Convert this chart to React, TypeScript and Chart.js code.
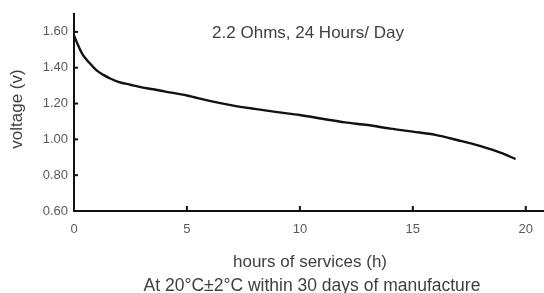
import React, { useEffect, useRef } from "react";
import { Chart, registerables } from "chart.js";

Chart.register(...registerables);

const hours = [0, 0.2, 0.4, 0.7, 1.0, 1.3, 1.6, 2.0, 2.5, 3.0, 3.5, 4.0, 5.0, 6.0, 7.0, 8.0, 9.0, 10.0, 11.0, 12.0, 13.0, 14.0, 15.0, 16.0, 17.0, 18.0, 19.0, 19.55];
const voltage = [1.58, 1.52, 1.47, 1.425, 1.385, 1.36, 1.34, 1.32, 1.305, 1.29, 1.28, 1.268, 1.245, 1.215, 1.19, 1.17, 1.152, 1.136, 1.115, 1.095, 1.08, 1.06, 1.043, 1.025, 0.995, 0.962, 0.92, 0.89];
const xTicks = [0, 5, 10, 15, 20];
const yTicks = [0.6, 0.8, 1.0, 1.2, 1.4, 1.6];
const chartTitle = "2.2 Ohms, 24 Hours/ Day";
const xTitle = "hours of services (h)";
const yTitle = "voltage (v)";
const note = "At 20\u00B0C\u00B12\u00B0C within 30 days of manufacture";

const FONT = "'Liberation Sans', Arial, sans-serif";

export default function App() {
  const ref = useRef<HTMLCanvasElement>(null);
  useEffect(() => {
    document.body.style.margin = "0";
    const textPlugin = {
      id: "texts",
      afterDraw(chart: any) {
        const ctx = chart.ctx;
        const ca = chart.chartArea;
        const xs = chart.scales.x;
        const ys = chart.scales.y;
        ctx.save();
        ctx.strokeStyle = "#111";
        ctx.lineWidth = 2;
        xTicks.forEach((t) => {
          const px = xs.getPixelForValue(t);
          ctx.beginPath();
          ctx.moveTo(px, ca.bottom);
          ctx.lineTo(px, ca.bottom - 5);
          ctx.stroke();
        });
        yTicks.forEach((t) => {
          const py = ys.getPixelForValue(t);
          ctx.beginPath();
          ctx.moveTo(ca.left, py);
          ctx.lineTo(ca.left + 4, py);
          ctx.stroke();
        });
        ctx.fillStyle = "#3f3f3f";
        ctx.textAlign = "center";
        ctx.textBaseline = "middle";
        ctx.font = `17px ${FONT}`;
        ctx.fillText(chartTitle, 308, 33);
        ctx.fillText(xTitle, 310, 262);
        ctx.font = `17.5px ${FONT}`;
        ctx.fillText(note, 312, 286);
        ctx.font = `17px ${FONT}`;
        ctx.translate(17, 109);
        ctx.rotate(-Math.PI / 2);
        ctx.fillText(yTitle, 0, 0);
        ctx.restore();
      },
    };
    const chart = new Chart(ref.current!, {
      type: "scatter",
      data: {
        datasets: [
          {
            data: hours.map((h, i) => ({ x: h, y: voltage[i] })),
            showLine: true,
            borderColor: "#111",
            borderWidth: 2.4,
            pointRadius: 0,
            cubicInterpolationMode: "monotone",
            fill: false,
          },
        ],
      },
      options: {
        animation: false,
        responsive: false,
        maintainAspectRatio: false,
        layout: { padding: { top: 14, right: 0, left: 0, bottom: 0 } },
        plugins: { legend: { display: false }, tooltip: { enabled: false }, title: { display: false } },
        scales: {
          x: {
            type: "linear",
            min: 0,
            max: 20.77,
            afterFit: (s: any) => {
              s.height = 82;
            },
            afterBuildTicks: (s: any) => {
              s.ticks = xTicks.map((v) => ({ value: v }));
            },
            border: { display: true, color: "#111", width: 2 },
            grid: { display: false, drawTicks: false },
            ticks: {
              padding: 11,
              color: "#5a5a5a",
              font: { family: FONT, size: 13 },
              maxRotation: 0,
              callback: (v: any) => String(v),
            },
          },
          y: {
            type: "linear",
            min: 0.6,
            max: 1.7,
            afterFit: (s: any) => {
              s.width = 74;
            },
            afterBuildTicks: (s: any) => {
              s.ticks = yTicks.map((v) => ({ value: v }));
            },
            border: { display: true, color: "#111", width: 2 },
            grid: { display: false, drawTicks: false },
            ticks: {
              padding: 6,
              color: "#5a5a5a",
              font: { family: FONT, size: 13 },
              callback: (v: any) => Number(v).toFixed(2),
            },
          },
        },
      },
      plugins: [textPlugin],
    } as any);
    return () => chart.destroy();
  }, []);
  return (
    <div style={{ position: "fixed", left: 0, top: 0, width: 544, height: 293, background: "#fff" }}>
      <canvas ref={ref} width={544} height={293} style={{ width: 544, height: 293 }} />
    </div>
  );
}
